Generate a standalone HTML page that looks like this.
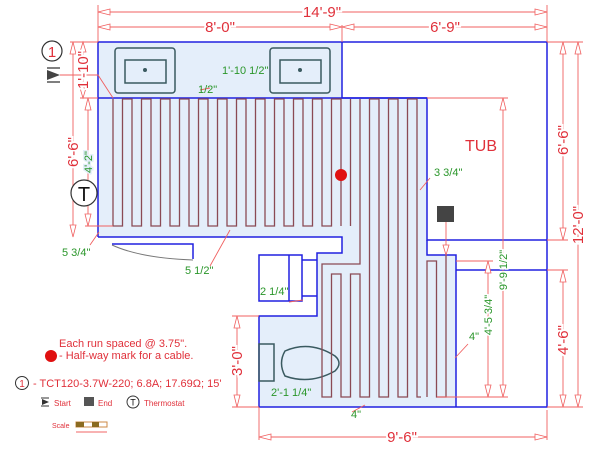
<!DOCTYPE html>
<html><head><meta charset="utf-8"><style>
html,body{margin:0;padding:0;background:#fff;width:600px;height:450px;overflow:hidden}
svg{display:block}
text{font-family:"Liberation Sans",sans-serif}
.r{fill:#e0303a}.g{fill:#2a962a}
</style></head><body>
<svg width="600" height="450" viewBox="0 0 600 450" xmlns="http://www.w3.org/2000/svg">
<path d="M98,42 H342 V98 H427 V255 H456 V407 H259 V316 H317 V253 H342 V237 H98 Z" fill="#e4eefa" stroke="none"/>
<g stroke="#2020e0" stroke-width="1.5" fill="none">
<path d="M98,237 V42 H547 V407 H259 V316 H317 V253 H342 V237 H98"/>
<path d="M342,42 V98 H427 V240 H547"/>
<path d="M427,240 V255 H456 V407"/>
<path d="M456,270 H547"/>
<path d="M98,98 H427"/>
<rect x="259" y="255" width="43" height="46"/>
<line x1="289" y1="255" x2="289" y2="301"/>
<path d="M302,260 H317 M302,296 H317"/>
<path d="M112,244 H193 V259"/>
</g>
<path d="M112,245 Q140,258 193,260" stroke="#777" fill="none" stroke-width="1"/>
<g stroke="#3a5a60" stroke-width="1.5" fill="none">
<rect x="115" y="48" width="60" height="45" rx="3"/><rect x="125" y="60" width="41" height="23"/>
<rect x="270" y="48" width="60" height="45" rx="3"/><rect x="280" y="60" width="41" height="23"/>
<rect x="259" y="344" width="15" height="37"/>
<path d="M285,351 Q310,340 335,356 Q343,363 335,371 Q310,385 285,376 Q278,363 285,351Z"/>
</g>
<circle cx="145" cy="70" r="2" fill="#3a5a60"/><circle cx="300" cy="70" r="2" fill="#3a5a60"/>
<path id="cable" d="" stroke="#8a4a55" stroke-width="1.3" fill="none"/>
<path d="M360,99 V264 H322 V397 H331.5 V274 H341 V397 H350.5 V274 H360 V397 H369.5 V99 H379 V397 H388.5 V99 H398 V397 H407.5 V99 H417 V397 H421 M350.5,99 V226 M427,397 V261 H436.5 V397 H446 V255" stroke="#8a4a55" stroke-width="1.3" fill="none"/>
<circle cx="341" cy="175" r="6" fill="#e01010"/>
<rect x="437" y="206" width="17" height="16" fill="#444"/>
<g stroke="#f06060" stroke-width="0.9" fill="none">
<path d="M98,5 V42 M342,25 V42 M547,5 V42"/>
<path d="M98,12 H547 M98,27 H547"/>
<path d="M547,42 H583 M547,240 H568 M547,270 H568 M547,407 H583 M427,98 H508 M456,261 H493 M437,397 H508"/>
<path d="M563,42 V240 M578,42 V407 M563,270 V407"/>
<path d="M259,407 V440 M547,410 V440 M259,437 H547"/>
<path d="M70,42 H98 M80,98 H98 M85,226 H113 M73,42 V237 M83,42 V98 M88,98 V226"/>
<path d="M232,316 H259 M232,407 H259 M237,316 V407"/>
<path d="M503,98 V397 M488,261 V397"/>
<path d="M446,222 V255"/>
<path d="M60,75 H98 L113,98"/>
<path d="M420,190 L430,178 M455,358 L468,344 M365,405 L352,412 M200,90 L210,88 M99,232 L90,245 M230,230 L210,266 M289,302 L303,300"/>
</g>
<g fill="#fff" stroke="#f06060" stroke-width="0.8">
<path d="M98,12 l12,-3 v6z M547,12 l-12,-3 v6z M98,27 l12,-3 v6z M342,27 l-12,-3 v6z M342,27 l12,-3 v6z M547,27 l-12,-3 v6z"/>
<path d="M563,42 l-3,12 h6z M563,240 l-3,-12 h6z M578,42 l-3,12 h6z M578,407 l-3,-12 h6z M563,270 l-3,12 h6z M563,407 l-3,-12 h6z"/>
<path d="M259,437 l12,-3 v6z M547,437 l-12,-3 v6z"/>
<path d="M73,42 l-3,12 h6z M73,237 l-3,-12 h6z M83,42 l-3,10 h6z M83,98 l-3,-10 h6z M88,98 l-3,12 h6z M88,226 l-3,-12 h6z"/>
<path d="M237,316 l-3,12 h6z M237,407 l-3,-12 h6z M503,98 l-3,12 h6z M503,397 l-3,-12 h6z M488,261 l-3,12 h6z M488,397 l-3,-12 h6z M446,255 l-3,-10 h6z"/>
</g>
<g class="r" font-size="15" text-anchor="middle" style="paint-order:stroke" stroke="#fff" stroke-width="4">
<text x="322" y="17">14'-9"</text>
<text x="220" y="32">8'-0"</text>
<text x="445" y="32">6'-9"</text>
<text x="402" y="442">9'-6"</text>
<text transform="translate(568,140) rotate(-90)">6'-6"</text>
<text transform="translate(583,225) rotate(-90)">12'-0"</text>
<text transform="translate(568,340) rotate(-90)">4'-6"</text>
<text transform="translate(78,152) rotate(-90)">6'-6"</text>
<text transform="translate(88,70) rotate(-90)">1'-10"</text>
<text transform="translate(242,361) rotate(-90)">3'-0"</text>
</g>
<g class="g" font-size="11" text-anchor="middle" style="paint-order:stroke" stroke-width="3">
<text transform="translate(92,162) rotate(-90)" stroke="#e4eefa">4'-2"</text>
<text transform="translate(507,270) rotate(-90)" stroke="#fff">9'-9 1/2"</text>
<text transform="translate(492,315) rotate(-90)" stroke="#fff">4'-5 3/4"</text>
</g>
<g class="g" font-size="11">
<text x="222" y="74">1'-10 1/2"</text>
<text x="198" y="93">1/2"</text>
<text x="434" y="176">3 3/4"</text>
<text x="62" y="256">5 3/4"</text>
<text x="185" y="274">5 1/2"</text>
<text x="260" y="295">2 1/4"</text>
<text x="271" y="396">2'-1 1/4"</text>
<text x="351" y="418">4"</text>
<text x="469" y="340">4"</text>
</g>
<text x="465" y="151" class="r" font-size="16">TUB</text>
<circle cx="52" cy="51" r="10" fill="#fff" stroke="#333" stroke-width="1.2"/>
<text x="52" y="57" class="r" font-size="15" text-anchor="middle">1</text>
<path d="M47,68 H60 M47,82 H60" stroke="#333" stroke-width="1.3"/>
<path d="M47,70 L60,75 L47,80Z" fill="#444"/>
<circle cx="84" cy="193" r="13" fill="#fff" stroke="#333" stroke-width="1.2"/>
<text x="84" y="201" font-size="20" text-anchor="middle" fill="#111">T</text>
<text x="59" y="347" class="r" font-size="11">Each run spaced @ 3.75".</text>
<circle cx="51" cy="356" r="6" fill="#e01010"/>
<text x="59" y="359" class="r" font-size="11">- Half-way mark for a cable.</text>
<circle cx="22" cy="383" r="6.5" fill="#fff" stroke="#333"/>
<text x="22" y="387" class="r" font-size="10" text-anchor="middle">1</text>
<text x="33" y="387" class="r" font-size="11">- TCT120-3.7W-220; 6.8A; 17.69Ω; 15'</text>
<path d="M41,398 h8 M41,406 h8" stroke="#333"/><path d="M42,399 L49,402 L42,405Z" fill="#333"/>
<text x="54" y="406" class="r" font-size="8">Start</text>
<rect x="84" y="397" width="10" height="9" fill="#555"/>
<text x="98" y="406" class="r" font-size="8">End</text>
<circle cx="133" cy="402" r="6" fill="#fff" stroke="#333"/>
<text x="133" y="405.5" font-size="9" text-anchor="middle" fill="#111">T</text>
<text x="144" y="406" class="r" font-size="8">Thermostat</text>
<text x="52" y="428" class="r" font-size="7">Scale</text>
<rect x="76" y="422" width="31" height="5" fill="#fff" stroke="#c84"/>
<rect x="76" y="422" width="8" height="5" fill="#8b6b20"/><rect x="92" y="422" width="7" height="5" fill="#8b6b20"/>
<path d="M76,432 H107" stroke="#e33" stroke-width="0.8"/>
</svg>
<script>
var d="M113,99",down=true;
for(var i=0;i<25;i++){var x=113+9.5*i;
 if(i==0){d+=" V226";down=false;continue;}
 d+=" H"+x+(down?" V226":" V99");down=!down;}
document.getElementById('cable').setAttribute('d',d);
</script>
</body></html>
